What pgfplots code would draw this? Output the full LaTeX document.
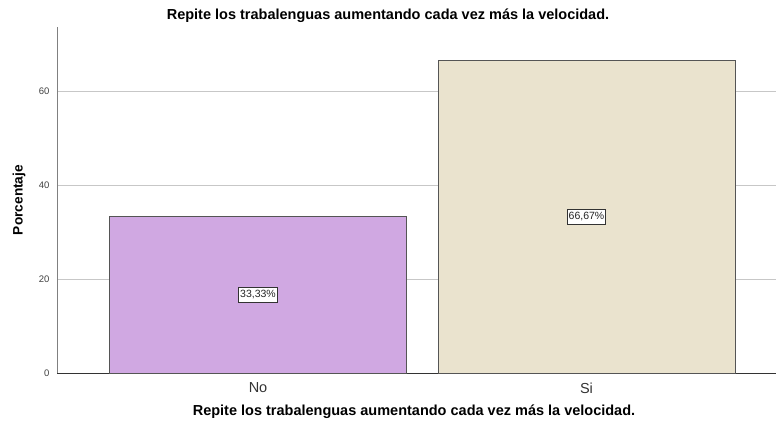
\documentclass[border=0pt]{standalone}
\usepackage{fontspec}
\setmainfont{Liberation Sans}
\usepackage{pgfplots}
\pgfplotsset{compat=1.18}
\definecolor{barA}{HTML}{D0A8E2}
\definecolor{barB}{HTML}{EAE3CE}
\definecolor{edge}{HTML}{555555}
\begin{document}
\begin{tikzpicture}[x=1bp,y=1bp]
\path[use as bounding box] (0,0) rectangle (776,425);
\begin{axis}[
  at={(57bp,52bp)}, anchor=south west, scale only axis,
  width=719bp, height=346bp,
  xmin=-0.612, xmax=1.577, ymin=0, ymax=73.8,
  axis x line=bottom, axis y line=left,
  x axis line style={-, draw=black!80, line width=0.8bp},
  y axis line style={-, draw=gray, line width=0.8bp},
  xtick={0,1}, xticklabels={No,Si},
  ytick={0,20,40,60},
  /pgf/number format/assume math mode=true,
  major tick length=0pt,
  ymajorgrids, grid style={draw=black!22, line width=0.8bp},
  yticklabel style={font=\fontsize{9.5bp}{9.5bp}\selectfont, text=black!75, xshift=-4bp},
  xticklabel style={font=\fontsize{14.5bp}{14.5bp}\selectfont, text=black!80, yshift=-6bp},
  every node near coord/.append style={anchor=center, fill=white, draw=black!80, line width=0.7bp,
     inner xsep=1.5bp, inner ysep=3.2bp, font=\fontsize{10.5bp}{10.5bp}\selectfont, text=black!85, yshift={-\rawy*2.3442bp}},
  clip=false,
]
\addplot[ybar, bar shift=0pt, bar width=0.904, fill=barA, draw=edge, line width=0.9bp,
  nodes near coords, point meta=explicit symbolic, visualization depends on={y \as \rawy}]
  coordinates {(0,33.33) [33,33\%]};
\addplot[ybar, bar shift=0pt, bar width=0.904, fill=barB, draw=edge, line width=0.9bp,
  nodes near coords, point meta=explicit symbolic, visualization depends on={y \as \rawy}]
  coordinates {(1,66.67) [66,67\%]};
\end{axis}
\node[font=\bfseries\fontsize{14.5bp}{14.5bp}\selectfont] at (388,409) {Repite los trabalenguas aumentando cada vez más la velocidad.};
\node[font=\bfseries\fontsize{14.5bp}{14.5bp}\selectfont] at (414,13) {Repite los trabalenguas aumentando cada vez más la velocidad.};
\node[font=\bfseries\fontsize{13.7bp}{13.7bp}\selectfont, rotate=90] at (19,225) {Porcentaje};
\end{tikzpicture}
\end{document}
